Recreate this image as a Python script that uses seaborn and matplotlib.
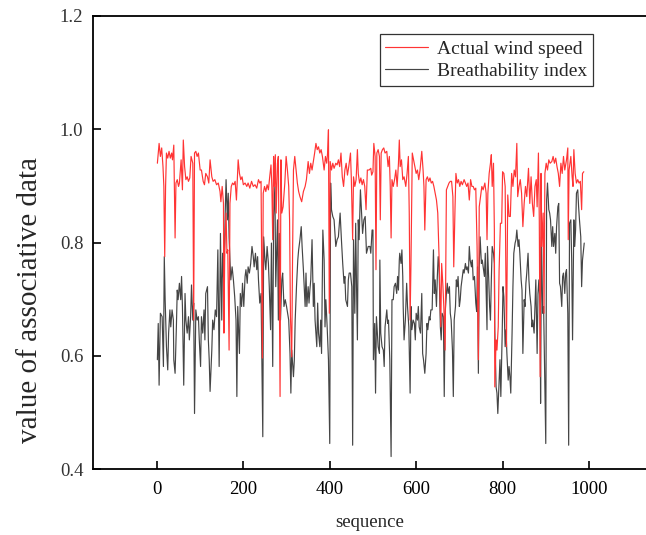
import matplotlib
matplotlib.use("Agg")
import matplotlib.pyplot as plt
import pandas as pd
import seaborn as sns

# ---------------- data ----------------
wind_seq = [1,3,5,8,11,14,16,18,20,22,25,28,31,34,36,39,42,44,47,50,52,56,59,61,64,67,70,73,76,79,
            83,85,87,90,93,96,100,103,107,110,113,117,120,123,127,130,134,138,142,146,148,151,154,155,157,160,162,164,167,169,
            172,175,178,181,184,187,188,191,194,197,200,204,208,211,215,219,223,227,231,235,238,
            241,244,246,249,252,255,258,261,264,266,268,270,272,274,276,279,281,283,285,287,289,292,296,299,302,305,307,309,312,314,
            316,319,322,325,328,331,335,339,343,346,350,353,356,359,362,365,368,371,374,377,380,383,387,390,393,395,397,399,401,404,
            407,410,414,417,420,423,426,429,432,435,438,441,444,448,450,453,455,458,461,464,466,469,472,475,478,481,484,487,491,495,
            497,500,502,505,507,509,512,515,517,519,522,525,528,532,535,538,540,542,544,547,550,553,556,559,561,563,566,569,572,576,
            579,582,584,586,588,591,594,597,600,603,606,609,613,616,618,620,623,626,629,632,635,638,641,644,647,650,653,657,659,662,
            664,667,670,673,676,679,682,685,687,690,692,695,698,701,704,707,711,714,717,720,723,726,729,732,735,738,741,744,746,
            749,752,755,759,762,764,766,769,772,774,776,779,781,782,785,787,790,792,795,798,800,803,806,809,812,815,818,821,824,827,
            830,833,835,838,841,844,847,850,853,856,860,863,866,869,872,875,878,880,883,885,887,889,891,894,896,898,901,904,907,910,
            914,917,920,923,926,929,932,935,938,941,944,948,951,952,954,958,961,963,965,968,971,974,977,980,983,985,988]
wind_val = [0.940,0.958,0.975,0.952,0.967,0.934,0.899,0.775,0.899,0.958,0.949,0.961,0.949,0.958,0.946,0.972,0.808,0.905,0.911,0.899,
            0.905,0.946,0.893,0.981,0.934,0.911,0.916,0.908,0.914,0.952,0.940,0.663,0.958,0.961,0.952,0.958,0.928,0.928,0.908,0.902,
            0.922,0.916,0.905,0.946,0.916,0.908,0.911,0.902,0.905,0.890,0.872,0.899,0.869,0.640,0.787,0.852,0.781,0.787,0.610,0.869,
            0.899,0.905,0.902,0.908,0.875,0.928,0.946,0.922,0.911,0.916,0.902,0.905,0.899,0.905,0.896,0.908,0.899,0.902,0.896,0.911,0.905,
            0.908,0.596,0.887,0.899,0.890,0.902,0.893,0.916,0.937,0.899,0.805,0.952,0.899,0.955,0.852,0.940,0.952,0.746,0.528,0.946,
            0.852,0.863,0.905,0.952,0.928,0.899,0.840,0.669,0.598,0.781,0.928,0.952,0.928,0.905,0.890,0.881,0.872,0.890,0.899,0.911,
            0.943,0.922,0.940,0.928,0.943,0.958,0.975,0.964,0.969,0.958,0.964,0.952,0.928,0.952,0.940,0.958,0.999,0.675,0.943,0.928,
            0.940,0.931,0.940,0.937,0.946,0.934,0.958,0.916,0.899,0.928,0.940,0.919,0.934,0.958,0.911,0.805,0.916,0.899,0.911,0.964,
            0.922,0.905,0.914,0.902,0.911,0.899,0.858,0.928,0.928,0.931,
            0.919,0.925,0.975,0.952,0.752,0.958,0.964,0.952,0.840,0.958,0.964,0.967,0.958,0.961,0.934,0.952,0.899,0.808,0.911,0.899,
            0.911,0.928,0.899,0.940,0.981,0.934,0.946,0.911,0.916,0.899,0.922,0.952,0.852,0.663,0.763,0.958,0.946,0.934,0.922,0.928,
            0.911,0.928,0.961,0.928,0.899,0.822,0.911,0.916,0.908,0.914,0.905,0.908,0.899,0.887,0.875,0.852,0.775,0.651,0.763,0.722,
            0.687,0.610,0.893,0.899,0.905,0.908,0.908,0.881,0.757,0.863,0.922,0.905,0.911,0.899,0.908,0.902,0.911,0.905,0.899,0.905,
            0.875,0.911,0.899,0.899,0.893,0.896,0.793,0.593,0.863,
            0.881,0.899,0.893,0.905,0.887,0.805,0.887,0.922,0.940,0.955,0.899,0.940,0.822,0.545,0.628,0.610,0.651,0.752,0.834,0.834,
            0.925,0.922,0.899,0.616,0.884,0.846,0.846,0.922,0.899,0.928,0.916,0.975,0.881,0.899,0.911,0.887,0.828,0.869,0.899,0.881,
            0.931,0.869,0.916,0.869,0.846,0.899,0.911,0.863,0.958,0.840,0.563,0.922,0.793,0.852,0.675,0.922,0.940,0.928,0.946,0.940,
            0.943,0.952,0.940,0.949,0.934,0.922,0.899,0.940,0.922,0.952,0.928,0.946,0.967,0.805,0.928,0.952,0.916,0.899,0.964,0.922,
            0.905,0.911,0.905,0.908,0.858,0.922,0.925]

breath_seq = [1,3,5,8,12,15,17,19,22,25,27,30,32,35,38,39,42,45,47,49,52,55,57,59,62,65,67,70,73,75,
              78,80,83,85,87,90,93,96,98,101,103,106,109,111,113,117,119,121,123,127,129,132,135,138,141,144,147,150,152,155,
              158,160,163,165,167,169,171,174,177,180,183,185,187,191,193,196,198,201,204,206,209,211,214,217,220,223,225,228,231,233,
              235,238,
              241,245,247,250,252,255,258,260,263,265,268,270,273,275,279,281,283,286,289,291,294,297,300,305,308,310,312,316,318,320,
              323,326,328,331,334,336,339,343,345,347,350,352,354,356,359,362,364,366,370,372,374,377,379,381,384,387,389,391,394,397,
              400,402,404,407,410,412,414,417,420,424,427,430,433,435,437,441,443,445,448,451,453,455,458,460,462,464,466,468,471,474,
              476,479,482,485,489,493,
              495,498,500,501,504,506,508,512,515,516,518,521,524,526,528,532,534,536,539,542,544,547,549,552,555,557,559,561,562,565,
              567,569,570,572,575,578,580,583,586,588,590,593,596,598,600,603,605,607,610,613,615,617,620,623,625,627,630,632,634,637,
              640,642,644,647,649,651,653,656,658,660,663,665,667,670,672,674,677,679,681,684,686,688,691,693,695,697,700,702,704,707,
              709,711,714,716,718,721,723,725,728,730,732,735,738,740,742,744,746,
              748,751,753,755,758,760,762,764,765,768,770,772,774,776,779,781,782,785,787,789,792,794,796,799,801,803,806,808,810,813,
              815,817,819,822,824,826,829,831,833,836,838,840,843,845,847,850,852,854,856,859,861,863,866,868,870,873,875,877,880,882,
              884,887,888,890,893,895,897,900,902,904,907,909,911,914,916,918,921,923,925,928,930,932,934,937,939,941,944,946,948,951,
              953,955,958,960,962,965,967,969,971,974,976,978,981,983,985,988,989]
breath_val = [0.593,0.657,0.548,0.675,0.669,0.581,0.775,0.699,0.616,0.575,0.640,0.681,0.651,0.681,0.663,0.593,0.569,0.651,0.716,0.699,
              0.728,0.699,0.740,0.687,0.548,0.710,0.663,0.640,0.669,0.628,0.669,0.725,0.663,0.693,0.498,0.681,0.663,0.669,0.628,0.581,
              0.669,0.640,0.681,0.628,0.710,0.722,0.628,0.593,0.537,0.610,0.663,0.646,0.681,0.669,0.787,0.581,0.816,0.663,0.781,0.722,
              0.852,0.911,0.840,0.887,0.810,0.769,0.734,0.757,0.734,0.704,0.663,0.528,0.687,0.604,0.710,0.687,0.728,0.687,0.740,0.752,
              0.728,0.757,0.746,0.763,0.793,0.775,0.757,0.781,0.752,0.775,0.734,0.693,
              0.710,0.457,0.810,0.769,0.752,0.793,0.763,0.722,0.646,0.799,0.581,0.846,0.899,0.722,0.840,0.663,0.816,0.663,0.734,0.746,
              0.687,0.699,0.687,0.663,0.604,0.534,0.610,0.563,0.593,0.663,0.722,0.769,0.787,0.805,0.828,0.793,0.752,0.687,0.746,0.687,
              0.722,0.693,0.716,0.734,0.805,0.687,0.728,0.663,0.616,0.693,0.640,0.616,0.663,0.604,0.822,0.769,0.651,0.699,0.651,0.593,
              0.445,0.905,0.858,0.846,0.840,0.816,0.793,0.805,0.810,0.852,0.805,0.763,0.728,0.740,0.699,0.687,0.734,0.746,0.746,0.722,
              0.442,0.805,0.675,0.834,0.722,0.628,0.840,0.805,0.893,0.846,0.816,0.840,0.846,0.781,0.793,0.793,
              0.781,0.822,0.822,0.593,0.657,0.534,0.669,0.616,0.604,0.769,0.640,0.616,0.610,0.581,0.651,0.681,0.657,0.663,0.593,0.422,
              0.699,0.699,0.722,0.728,0.710,0.740,0.716,0.769,0.781,0.763,0.787,0.740,0.687,0.628,0.663,0.728,0.687,0.651,0.534,0.687,
              0.646,0.663,0.657,0.628,0.675,0.663,0.687,0.651,0.640,0.710,0.604,0.593,0.569,0.604,0.657,0.646,0.669,0.663,0.681,0.681,
              0.787,0.710,0.734,0.687,0.740,0.775,0.757,0.651,0.628,0.675,0.669,0.528,0.675,0.710,0.728,0.710,0.722,0.675,0.663,0.610,
              0.528,0.663,0.687,0.734,0.722,0.740,0.687,0.699,0.722,0.740,0.752,0.746,0.763,0.752,0.757,0.746,0.793,0.769,0.757,0.769,
              0.734,0.740,0.693,0.678,0.757,0.569,0.757,
              0.810,0.763,0.769,0.757,0.740,0.781,0.710,0.646,0.793,0.734,0.687,0.663,0.734,0.793,0.781,0.763,0.646,0.545,0.534,0.498,
              0.557,0.593,0.528,0.634,0.722,0.704,0.616,0.646,0.604,0.557,0.581,0.563,0.534,0.640,0.722,0.781,0.799,0.805,0.822,0.793,
              0.805,0.781,0.734,0.716,0.604,0.699,0.687,0.728,0.746,0.781,0.734,0.710,0.687,0.651,0.663,0.640,0.687,0.734,0.604,0.710,
              0.734,0.687,0.516,0.810,0.675,0.687,0.593,0.445,0.875,0.905,0.858,0.852,0.840,0.793,0.828,0.793,0.816,0.781,0.828,0.863,
              0.869,0.728,0.722,0.687,0.740,0.746,0.710,0.746,0.752,0.675,0.442,0.834,0.840,0.769,0.628,0.840,0.793,0.822,0.887,0.893,
              0.863,0.840,0.810,0.722,0.769,0.793,0.799]

series_names = ["Actual wind speed", "Breathability index"]
x_ticks = [0, 200, 400, 600, 800, 1000]
y_ticks = [0.4, 0.6, 0.8, 1.0, 1.2]
y_tick_labels = ["0.4", "0.6", "0.8", "1.0", "1.2"]
x_label = "sequence"
y_label = "value of associative data"

n = min(len(wind_seq), len(wind_val))
m = min(len(breath_seq), len(breath_val))
df_wind = pd.DataFrame({"sequence": wind_seq[:n], "value": wind_val[:n]})
df_breath = pd.DataFrame({"sequence": breath_seq[:m], "value": breath_val[:m]})

# ---------------- style ----------------
sns.set_theme(style="ticks")
plt.rcParams["font.family"] = ["Liberation Serif", "DejaVu Serif"]

W, H = 646, 535
fig = plt.figure(figsize=(W / 100, H / 100), dpi=100)
ax = fig.add_axes([93 / W, 66 / H, 553 / W, 453 / H])

RED = "#ff3434"
GREY = "#454545"

sns.lineplot(data=df_breath, x="sequence", y="value", ax=ax, color=GREY,
             linewidth=0.85, estimator=None, sort=False, label=series_names[1])
sns.lineplot(data=df_wind, x="sequence", y="value", ax=ax, color=RED,
             linewidth=0.85, estimator=None, sort=False, label=series_names[0])

ax.set_xlim(-148, 1132)
ax.set_ylim(0.4, 1.2)
ax.set_xticks(x_ticks)
ax.set_xticklabels([str(t) for t in x_ticks])
ax.set_yticks(y_ticks)
ax.set_yticklabels(y_tick_labels)

ax.tick_params(axis="both", direction="in", length=6, width=1.2, colors="black",
               labelsize=13.5)
ax.tick_params(axis="x", pad=9)
ax.tick_params(axis="y", pad=7, labelcolor="#333333")

for side in ["left", "bottom", "top"]:
    ax.spines[side].set_linewidth(1.3)
    ax.spines[side].set_color("black")
ax.spines["right"].set_visible(False)

ax.set_xlabel(x_label, fontsize=13.5, va="center")
ax.set_ylabel(y_label, fontsize=21, va="center")
ax.xaxis.set_label_coords(0.5, -0.117)
ax.yaxis.set_label_coords(-0.114, 0.373)

handles, labels = ax.get_legend_handles_labels()
order = [labels.index(s) for s in series_names]
leg = ax.legend([handles[i] for i in order], [labels[i] for i in order],
                loc="upper right", bbox_to_anchor=(0.904, 0.960),
                fontsize=14, frameon=True, fancybox=False, framealpha=1,
                edgecolor="#333333", handlelength=2.2, handletextpad=0.45,
                labelspacing=0.25, borderpad=0.3, borderaxespad=0)
leg.get_frame().set_linewidth(0.9)

fig.savefig("out.png", dpi=100)
